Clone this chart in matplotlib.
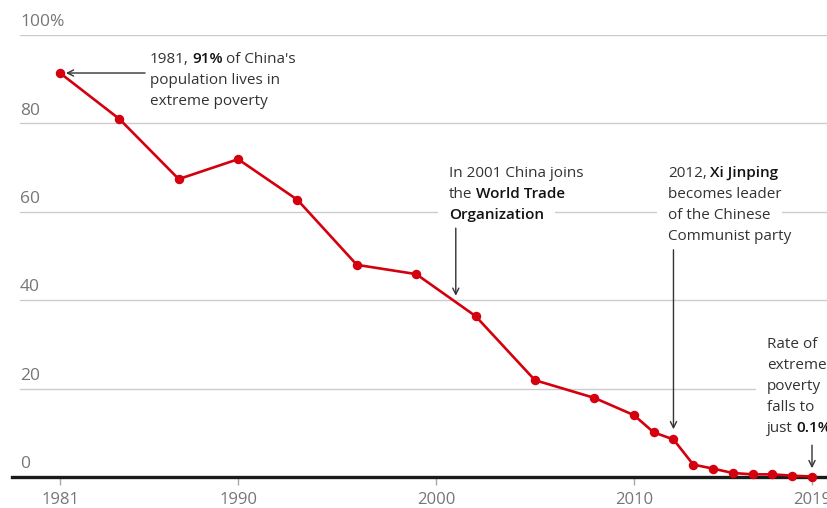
import matplotlib
matplotlib.use("Agg")
import matplotlib.pyplot as plt
from matplotlib.transforms import IdentityTransform
from matplotlib.patches import Rectangle

# ---- data ----
years = [1981, 1984, 1987, 1990, 1993, 1996, 1999, 2002, 2005, 2008,
         2010, 2011, 2012, 2013, 2014, 2015, 2016, 2017, 2018, 2019]
rate = [91.4, 81.0, 67.4, 71.9, 62.7, 48.0, 45.9, 36.4, 21.9, 17.9,
        14.0, 10.1, 8.5, 2.8, 1.9, 0.9, 0.6, 0.6, 0.3, 0.1]
xtick_years = [1981, 1990, 2000, 2010, 2019]
ytick_vals = [0, 20, 40, 60, 80, 100]
ytick_labels = ["0", "20", "40", "60", "80", "100%"]

W, H = 828, 508
FONT = "Open Sans"
RED = "#d5000e"
TXT = "#333333"
BOLD = "#121212"
GREY = "#767676"

fig = plt.figure(figsize=(W / 100, H / 100), dpi=100)
ax = fig.add_axes([12 / W, 31 / H, 816 / W, (477 - 35) / H])
ppy = (812 - 60) / 38.0
ax.set_xlim(1981 - 48 / ppy, 2019 + 16 / ppy)
ax.set_ylim(0, 100)
for s in ax.spines.values():
    s.set_visible(False)
ax.set_yticks([])

gx0 = 8 / 816
for v, lab in zip(ytick_vals, ytick_labels):
    if v > 0:
        ax.axhline(v, xmin=gx0, xmax=1, color="#cccccc", lw=1, zorder=0.5)
    ax.text(gx0, v + 2.0, lab, transform=ax.get_yaxis_transform(),
            ha="left", va="baseline", fontsize=12.5, color=GREY,
            family=FONT, clip_on=False)

ax.axhline(0, color="#1a1a1a", lw=2.4, zorder=2, clip_on=False)
ax.set_xticks(xtick_years)
ax.set_xticklabels([str(y) for y in xtick_years], family=FONT,
                   fontsize=12, color=GREY)
ax.tick_params(axis="x", length=6, width=1, color="#aaaaaa", pad=5)

ax.plot(years, rate, color=RED, lw=1.9, marker="o", markersize=5.8,
        zorder=3, clip_on=False)

# ---- annotations ----
fig.canvas.draw()
renderer = fig.canvas.get_renderer()
FS = 11


def measure(s, bold):
    t = ax.text(0, 0, s, transform=IdentityTransform(), fontsize=FS,
                family=FONT, fontweight="bold" if bold else "normal")
    w = t.get_window_extent(renderer).width
    t.remove()
    return w


SP = 0.8 * (measure("a a", False) - measure("aa", False))


def rich(x, baselines, lines, cover=True):
    for line, yb in zip(lines, baselines):
        cx = x
        for seg, bold in line:
            lead = len(seg) - len(seg.lstrip(" "))
            trail = len(seg) - len(seg.rstrip(" "))
            core = seg.strip(" ")
            cx += lead * SP
            t = ax.text(cx, H - yb, core, transform=IdentityTransform(),
                        fontsize=FS, family=FONT, va="baseline", ha="left",
                        color=BOLD if bold else TXT,
                        fontweight="semibold" if bold else "normal",
                        zorder=6, clip_on=False)
            cx += t.get_window_extent(renderer).width + trail * SP
        if cover:
            ax.add_patch(Rectangle((x - 11, H - yb - 5), cx - x + 22, 20,
                                   transform=IdentityTransform(),
                                   facecolor="white", edgecolor="none",
                                   zorder=1, clip_on=False))


rich(150, [63, 84, 105],
     [[("1981, ", False), ("91%", True), (" of China's", False)],
      [("population lives in", False)],
      [("extreme poverty", False)]], cover=False)
rich(449, [177, 198, 219],
     [[("In 2001 China joins", False)],
      [("the ", False), ("World Trade", True)],
      [("Organization", True)]])
rich(668, [177, 198, 219, 240],
     [[("2012, ", False), ("Xi Jinping", True)],
      [("becomes leader", False)],
      [("of the Chinese", False)],
      [("Communist party", False)]])
rich(767, [348, 369, 390, 411, 432],
     [[("Rate of", False)],
      [("extreme", False)],
      [("poverty", False)],
      [("falls to", False)],
      [("just ", False), ("0.1%", True)]])

arr = dict(arrowstyle="->", color=TXT, lw=1, shrinkA=0, shrinkB=0,
           mutation_scale=11)
ax.annotate("", xy=(1981.3, 91.4), xytext=(1985.3, 91.4), arrowprops=arr,
            zorder=5)
ax.annotate("", xy=(2001, 41.0), xytext=(2001, 56.3), arrowprops=arr,
            zorder=5)
ax.annotate("", xy=(2012, 10.8), xytext=(2012, 51.4), arrowprops=arr,
            zorder=5)
ax.annotate("", xy=(2019, 2.0), xytext=(2019, 7.2), arrowprops=arr,
            zorder=5)

fig.savefig("out.png", dpi=100, facecolor="white")
